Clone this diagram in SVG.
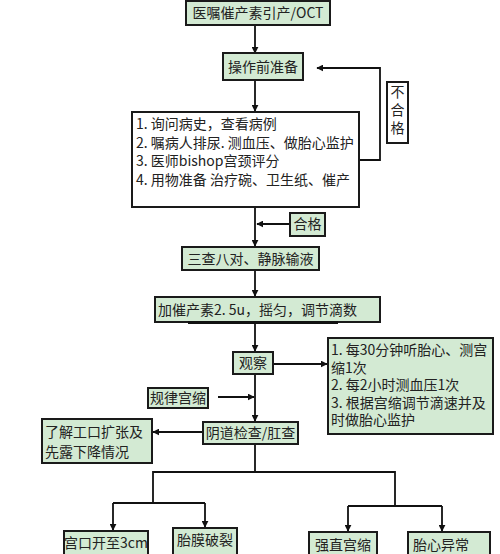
<svg xmlns="http://www.w3.org/2000/svg" width="500" height="554" viewBox="0 0 500 554">
<defs>
<marker id="ah" viewBox="0 0 10 10" refX="9" refY="5" markerWidth="7" markerHeight="7" markerUnits="userSpaceOnUse" orient="auto">
<path d="M0,0 L10,5 L0,10 z" fill="#111"/>
</marker>
<style>
.box{fill:#d3ead3;stroke:#1a1a1a;stroke-width:2}
.wbox{fill:#ffffff;stroke:#1a1a1a;stroke-width:2}
.t{font-family:"Noto Sans CJK SC","Liberation Serif",serif;font-size:14px;fill:#222}
.c{text-anchor:middle}
.ln{fill:none;stroke:#111;stroke-width:1.8}
.ar{fill:none;stroke:#111;stroke-width:1.8;marker-end:url(#ah)}
</style>
</defs>
<rect width="500" height="554" fill="#ffffff"/>
<g id="connectors">
<line class="ar" x1="255" y1="25" x2="255" y2="53"/>
<line class="ar" x1="255" y1="80" x2="255" y2="111"/>
<polyline class="ar" points="359,160 380,160 380,68 317,68"/>
<line class="ar" x1="255" y1="207" x2="255" y2="246"/>
<line class="ar" x1="290" y1="224" x2="257" y2="224"/>
<line class="ar" x1="255" y1="270" x2="255" y2="296"/>
<line class="ar" x1="255" y1="324" x2="255" y2="351"/>
<line class="ar" x1="273" y1="364" x2="327" y2="364"/>
<line class="ar" x1="218" y1="397" x2="254" y2="397"/>
<line class="ar" x1="255" y1="374" x2="255" y2="421"/>
<line class="ar" x1="203" y1="432" x2="153" y2="432"/>
<polyline class="ln" points="255,444 255,472"/>
<polyline class="ln" points="153,503 153,472 395,472 395,506"/>
<polyline class="ln" points="113,503 205,503"/>
<polyline class="ln" points="348,506 442,506"/>
<line class="ar" x1="113" y1="503" x2="113" y2="530"/>
<line class="ar" x1="205" y1="503" x2="205" y2="527"/>
<line class="ar" x1="348" y1="506" x2="348" y2="531"/>
<line class="ar" x1="442" y1="506" x2="442" y2="531"/>
</g>
<g id="n-oct"><rect class="box" x="186" y="1" width="144" height="24"/><text class="t c" x="258" y="18">医嘱催产素引产/OCT</text></g>
<g id="n-prep"><rect class="box" x="223" y="53" width="80" height="27"/><text class="t c" x="263" y="72">操作前准备</text></g>
<g id="n-list1"><rect class="wbox" x="132" y="112" width="227" height="95"/>
<text class="t" x="136" y="129">1. 询问病史，查看病例</text>
<text class="t" x="136" y="148">2. 嘱病人排尿. 测血压、做胎心监护</text>
<text class="t" x="136" y="166">3. 医师bishop宫颈评分</text>
<text class="t" x="136" y="185">4. 用物准备 治疗碗、卫生纸、催产</text>
</g>
<g id="n-fail"><rect class="wbox" x="387" y="82" width="21" height="61" stroke-width="1.5"/>
<text class="t c" x="397.5" y="97">不</text><text class="t c" x="397.5" y="115">合</text><text class="t c" x="397.5" y="133">格</text></g>
<g id="n-pass"><rect class="box" x="290" y="213" width="35" height="23"/><text class="t c" x="307.5" y="229">合格</text></g>
<g id="n-check"><rect class="box" x="182" y="247" width="137" height="23"/><text class="t c" x="250.5" y="264">三查八对、静脉输液</text></g>
<g id="n-oxy"><rect class="box" x="155" y="297" width="225" height="25"/><rect x="188" y="321" width="150" height="3" fill="#111"/><text class="t" x="158" y="315">加催产素2. 5u，摇匀，调节滴数</text></g>
<g id="n-obs"><rect class="box" x="233" y="352" width="40" height="22"/><text class="t c" x="253" y="368">观察</text></g>
<g id="n-obslist"><rect class="box" x="328" y="338" width="165" height="96"/>
<text class="t" x="331" y="355">1. 每30分钟听胎心、测宫</text>
<text class="t" x="331" y="373">缩1次</text>
<text class="t" x="331" y="390">2. 每2小时测血压1次</text>
<text class="t" x="331" y="408">3. 根据宫缩调节滴速并及</text>
<text class="t" x="331" y="425">时做胎心监护</text>
</g>
<g id="n-reg"><rect class="box" x="148" y="388" width="60" height="20"/><text class="t c" x="178" y="403">规律宫缩</text></g>
<g id="n-vag"><rect class="box" x="203" y="422" width="95" height="22"/><text class="t c" x="250.5" y="438">阴道检查/肛查</text></g>
<g id="n-know"><rect class="box" x="42" y="419" width="110" height="44"/>
<text class="t" x="45" y="437">了解工口扩张及</text>
<text class="t" x="45" y="457">先露下降情况</text></g>
<g id="n-open"><rect class="box" x="64" y="531" width="84" height="30"/><text class="t c" x="106" y="548">宫口开至3cm</text></g>
<g id="n-rupt"><rect class="box" x="173" y="528" width="64" height="33"/><text class="t c" x="205" y="545">胎膜破裂</text></g>
<g id="n-tet"><rect class="box" x="309" y="532" width="68" height="30"/><text class="t c" x="343" y="550">强直宫缩</text></g>
<g id="n-fhr"><rect class="box" x="408" y="532" width="82" height="30"/><text class="t" x="413" y="550">胎心异常</text></g>
</svg>
